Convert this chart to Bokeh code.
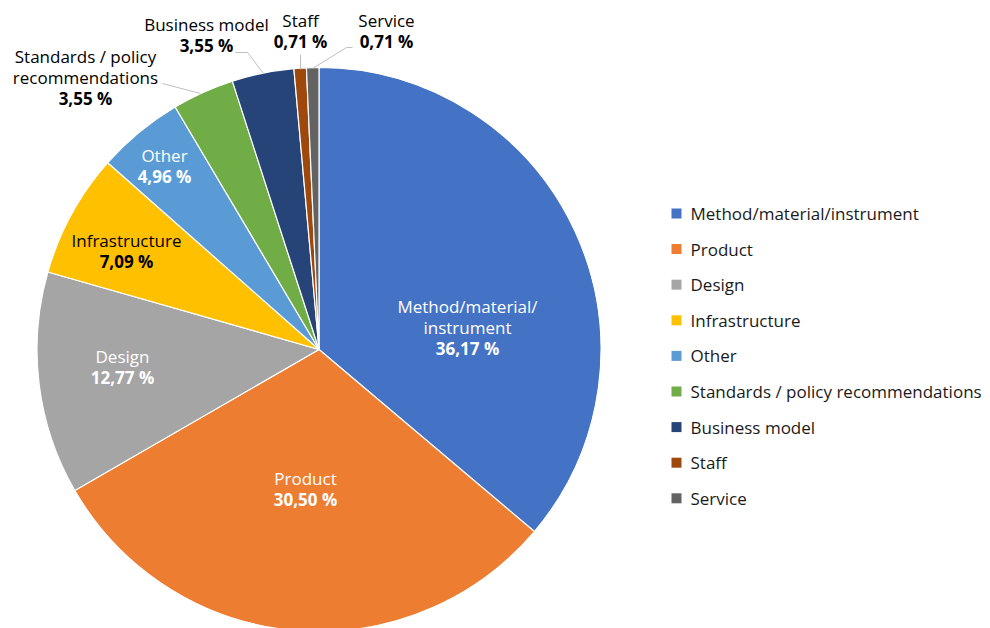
import math
from bokeh.plotting import figure
from bokeh.models import Range1d, ColumnDataSource
from bokeh.core.properties import value
from bokeh.embed import file_html
from bokeh.resources import INLINE

# ---- data ----
categories = ["Method/material/instrument", "Product", "Design", "Infrastructure", "Other",
              "Standards / policy recommendations", "Business model", "Staff", "Service"]
shares = [36.17, 30.50, 12.77, 7.09, 4.96, 3.55, 3.55, 0.71, 0.71]
label_names = [["Method/material/", "instrument"], ["Product"], ["Design"], ["Infrastructure"],
               ["Other"], ["Standards / policy", "recommendations"], ["Business model"],
               ["Staff"], ["Service"]]

# ---- style ----
colors = ["#4472C4", "#ED7D31", "#A5A5A5", "#FFC000", "#5B9BD5",
          "#70AD47", "#264478", "#9E480E", "#636363"]
label_colors = ["white", "white", "white", "black", "white", "black", "black", "black", "black"]
FONT = value("Open Sans")
FS = "17px"
W, H = 990, 628


def sy(y):
    return H - y


# label anchor (screen px of first line centre) - layout only
label_anchor = [(467, 306), (305, 478), (122, 356), (126, 240), (164, 155),
                (85, 56), (206, 24), (300, 20), (386, 20)]
leaders = [None, None, None, None, None,
           [(162, 83), (200, 93)],
           [(235, 52), (247, 52), (263, 73)],
           [(300, 54), (300, 69)],
           [(352, 47), (346, 47), (312, 68)]]
LINE_H = 21

p = figure(width=W, height=H, output_backend="svg", toolbar_location=None,
           x_range=Range1d(0, W), y_range=Range1d(0, H), min_border=0)
p.axis.visible = False
p.grid.visible = False
p.outline_line_color = None
p.background_fill_color = "white"
p.border_fill_color = "white"

cx, cy, R = 318.5, sy(349), 282
total = sum(shares)
starts, ends = [], []
a = math.pi / 2
for s in shares:
    b = a - s / total * 2 * math.pi
    starts.append(a)
    ends.append(b)
    a = b

src = ColumnDataSource(dict(start=starts, end=ends, color=colors, cat=categories))
p.wedge(x=cx, y=cy, radius=R, start_angle="start", end_angle="end", direction="clock",
        fill_color="color", line_color="white", line_width=1.2, source=src)

# leader lines
for ld in leaders:
    if ld:
        p.line([q[0] for q in ld], [sy(q[1]) for q in ld], line_color="#BFBFBF", line_width=1)

# data labels
for i, (names, v) in enumerate(zip(label_names, shares)):
    x0, y0 = label_anchor[i]
    for j, nm in enumerate(names):
        p.text(x=[x0], y=[sy(y0 + j * LINE_H)], text=[nm], text_align="center",
               text_baseline="middle", text_font=FONT, text_font_size=FS,
               text_color=label_colors[i])
    pct = f"{v:.2f}".replace(".", ",") + " %"
    p.text(x=[x0], y=[sy(y0 + len(names) * LINE_H)], text=[pct], text_align="center",
           text_baseline="middle", text_font=FONT, text_font_size=FS,
           text_font_style="bold", text_color=label_colors[i])

# legend
lx, ly0, ldy = 676, 213, 35.6
for i, cat in enumerate(categories):
    yy = sy(ly0 + i * ldy)
    p.scatter(x=[lx], y=[yy], marker="square", size=10, fill_color=colors[i], line_color=None)
    p.text(x=[lx + 14], y=[yy], text=[cat], text_align="left", text_baseline="middle",
           text_font=FONT, text_font_size=FS, text_color="#1a1a1a")

open("out.html", "w").write(file_html(p, INLINE))
